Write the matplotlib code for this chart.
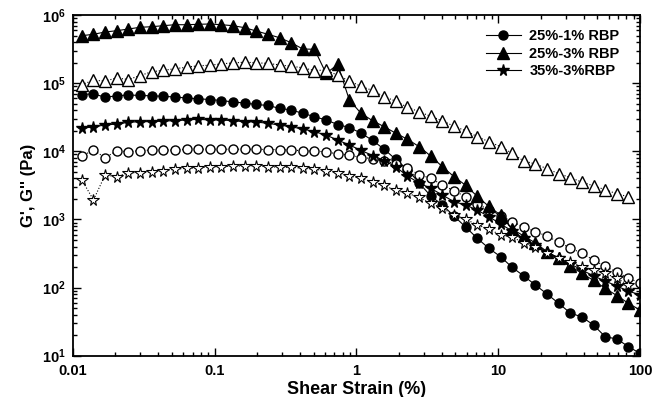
import numpy as np
import matplotlib
matplotlib.use('Agg')
import matplotlib.pyplot as plt
from matplotlib.ticker import LogLocator, FuncFormatter, NullFormatter

plt.rcParams['font.family'] = ['Liberation Sans', 'DejaVu Sans']
plt.rcParams['font.weight'] = 'bold'
plt.rcParams['mathtext.fontset'] = 'custom'
plt.rcParams['mathtext.rm'] = 'Liberation Sans:bold'
plt.rcParams['mathtext.bf'] = 'Liberation Sans:bold'
plt.rcParams['mathtext.it'] = 'Liberation Sans:bold'

# ---- data ----
strain = [0.0116, 0.01401, 0.01692, 0.02044, 0.02469, 0.02982, 0.03601, 0.0435,
          0.05254, 0.06346, 0.07665, 0.09258, 0.1118, 0.1351, 0.1631, 0.197,
          0.238, 0.2874, 0.3472, 0.4193, 0.5065, 0.6117, 0.7389, 0.8924,
          1.078, 1.302, 1.573, 1.899, 2.294, 2.771, 3.346, 4.042,
          4.882, 5.896, 7.121, 8.601, 10.39, 12.55, 15.15, 18.30,
          22.11, 26.70, 32.25, 38.95, 47.04, 56.82, 68.62, 82.88, 100.0]

# 25%-1% RBP  G' (filled circles) and G'' (open circles)
gp_25_1 = [6.81e4, 6.97e4, 6.20e4, 6.52e4, 6.70e4, 6.59e4, 6.52e4, 6.41e4,
           6.26e4, 6.05e4, 5.89e4, 5.75e4, 5.56e4, 5.29e4, 5.11e4, 4.86e4,
           4.70e4, 4.27e4, 4.03e4, 3.61e4, 3.22e4, 2.88e4, 2.47e4, 2.23e4,
           1.85e4, 1.44e4, 1.07e4, 7.58e3, 5.40e3, 3.42e3, 2.21e3, 1.63e3,
           1.12e3, 7.74e2, 5.28e2, 3.77e2, 2.84e2, 1.98e2, 1.48e2, 1.09e2,
           8.04e1, 5.87e1, 4.23e1, 3.70e1, 2.82e1, 1.90e1, 1.76e1, 1.36e1, 1.08e1]
gpp_25_1 = [8.52e3, 1.04e4, 8.05e3, 1.02e4, 9.86e3, 1.02e4, 1.04e4, 1.04e4,
            1.04e4, 1.07e4, 1.07e4, 1.07e4, 1.07e4, 1.07e4, 1.07e4, 1.07e4,
            1.06e4, 1.06e4, 1.04e4, 1.02e4, 1.00e4, 9.86e3, 9.12e3, 8.82e3,
            8.10e3, 7.83e3, 7.27e3, 6.51e3, 5.63e3, 4.56e3, 4.01e3, 3.20e3,
            2.64e3, 2.15e3, 1.71e3, 1.37e3, 1.14e3, 9.26e2, 7.74e2, 6.60e2,
            5.71e2, 4.62e2, 3.81e2, 3.18e2, 2.54e2, 2.04e2, 1.69e2, 1.37e2, 1.17e2]

# 25%-3% RBP  G' (filled triangles) and G'' (open triangles)
gp_25_3 = [4.97e5, 5.21e5, 5.63e5, 5.88e5, 6.23e5, 6.60e5, 6.73e5, 6.97e5,
           7.20e5, 7.20e5, 7.30e5, 7.38e5, 7.20e5, 6.97e5, 6.51e5, 5.82e5,
           5.21e5, 4.64e5, 3.92e5, 3.17e5, 3.14e5, 1.39e5, 1.88e5, 5.66e4,
           3.61e4, 2.81e4, 2.29e4, 1.84e4, 1.50e4, 1.17e4, 8.52e3, 5.94e3,
           4.24e3, 3.17e3, 2.18e3, 1.55e3, 1.16e3, 7.23e2, 5.71e2, 4.51e2,
           3.36e2, 2.67e2, 2.05e2, 1.62e2, 1.27e2, 9.75e1, 7.64e1, 5.87e1, 4.68e1]
gpp_25_3 = [9.55e4, 1.10e5, 1.075e5, 1.19e5, 1.13e5, 1.29e5, 1.47e5, 1.54e5,
            1.63e5, 1.71e5, 1.80e5, 1.83e5, 1.92e5, 1.98e5, 2.03e5, 1.99e5,
            1.95e5, 1.85e5, 1.77e5, 1.68e5, 1.53e5, 1.56e5, 1.30e5, 1.08e5,
            8.96e4, 7.80e4, 6.32e4, 5.43e4, 4.42e4, 3.80e4, 3.26e4, 2.80e4,
            2.33e4, 2.00e4, 1.64e4, 1.38e4, 1.17e4, 9.34e3, 7.20e3, 6.51e3,
            5.55e3, 4.69e3, 4.12e3, 3.52e3, 3.11e3, 2.73e3, 2.38e3, 2.15e3]

# 35%-3% RBP  G' (filled stars) and G'' (open stars)
gp_35_3 = [2.17e4, 2.29e4, 2.43e4, 2.51e4, 2.66e4, 2.72e4, 2.72e4, 2.78e4,
           2.81e4, 2.88e4, 2.95e4, 2.88e4, 2.88e4, 2.81e4, 2.72e4, 2.69e4,
           2.57e4, 2.43e4, 2.29e4, 2.12e4, 1.94e4, 1.73e4, 1.46e4, 1.24e4,
           1.03e4, 8.67e3, 7.32e3, 5.88e3, 4.34e3, 3.42e3, 2.86e3, 2.28e3,
           1.82e3, 1.63e3, 1.37e3, 1.10e3, 8.57e2, 6.76e2, 5.25e2, 4.21e2,
           3.33e2, 2.72e2, 2.22e2, 1.81e2, 1.48e2, 1.25e2, 1.05e2, 8.90e1, 7.78e1]
gpp_35_3 = [3.79e3, 1.93e3, 4.49e3, 4.24e3, 4.85e3, 4.85e3, 5.02e3, 5.19e3,
            5.44e3, 5.63e3, 5.74e3, 5.94e3, 5.94e3, 6.08e3, 6.08e3, 6.18e3,
            5.94e3, 5.82e3, 5.82e3, 5.63e3, 5.44e3, 5.19e3, 4.88e3, 4.34e3,
            4.01e3, 3.54e3, 3.15e3, 2.66e3, 2.42e3, 2.10e3, 1.72e3, 1.47e3,
            1.16e3, 1.01e3, 8.28e2, 7.23e2, 5.91e2, 5.52e2, 4.51e2, 4.00e2,
            3.22e2, 2.72e2, 2.37e2, 2.02e2, 1.81e2, 1.61e2, 1.37e2, 1.09e2]

labels = ['25%-1% RBP', '25%-3% RBP', '35%-3%RBP']
x_ticks = [0.01, 0.1, 1, 10, 100]
x_ticklabels = ['0.01', '0.1', '1', '10', '100']

# ---- figure ----
fig = plt.figure(figsize=(6.65, 3.97), dpi=100)
ax = fig.add_axes([72.7 / 665, 41.3 / 397, 567.3 / 665, 340.7 / 397])
ax.set_xscale('log')
ax.set_yscale('log')

lw = 0.8
h1, = ax.plot(strain, gp_25_1, '-', color='k', lw=lw, marker='o', ms=6.5,
              mfc='k', mec='k', label=labels[0])
ax.plot(strain, gpp_25_1, ':', color='k', lw=lw, marker='o', ms=6.5,
        mfc='white', mec='k', mew=1.0)
h2, = ax.plot(strain, gp_25_3, '-', color='k', lw=lw, marker='^', ms=8,
              mfc='k', mec='k', label=labels[1])
ax.plot(strain[:len(gpp_25_3)], gpp_25_3, ':', color='k', lw=lw, marker='^',
        ms=8, mfc='white', mec='k', mew=1.0)
h3, = ax.plot(strain, gp_35_3, '-', color='k', lw=lw, marker='*', ms=8.5,
              mfc='k', mec='k', label=labels[2])
ax.plot(strain[:len(gpp_35_3)], gpp_35_3, ':', color='k', lw=lw, marker='*',
        ms=8.5, mfc='white', mec='k', mew=0.8)

ax.set_xlim(0.01, 100)
ax.set_ylim(10, 1e6)

ax.set_xticks(x_ticks)
ax.set_xticklabels(x_ticklabels, fontsize=10.5, fontweight='bold')
ax.xaxis.set_minor_locator(LogLocator(base=10, subs=np.arange(2, 10)))
ax.xaxis.set_minor_formatter(NullFormatter())
ax.yaxis.set_major_locator(LogLocator(base=10, numticks=10))
ax.yaxis.set_minor_locator(LogLocator(base=10, subs=np.arange(2, 10), numticks=10))
ax.yaxis.set_minor_formatter(NullFormatter())
ax.yaxis.set_major_formatter(FuncFormatter(lambda v, p: r'$\mathbf{10^{%d}}$' % int(round(np.log10(v)))))

ax.tick_params(which='both', direction='in', top=True, right=True, width=1.0)
ax.tick_params(which='major', length=6)
ax.tick_params(which='minor', length=3)
ax.tick_params(axis='y', labelsize=10.5, pad=5)
ax.tick_params(axis='x', labelsize=10.5, pad=6)
for s in ax.spines.values():
    s.set_linewidth(1.3)

ax.set_xlabel('Shear Strain (%)', fontsize=13, fontweight='bold', labelpad=2)
ax.set_ylabel("G', G'' (Pa)", fontsize=12, fontweight='bold', labelpad=4)

leg = ax.legend(handles=[h1, h2, h3], loc='upper left',
                bbox_to_anchor=(0.715, 0.98), frameon=False, numpoints=1,
                handlelength=2.4, handletextpad=0.6, borderpad=0,
                labelspacing=0.25, prop={'weight': 'bold', 'size': 10.5})

fig.savefig('out.png', dpi=100)
